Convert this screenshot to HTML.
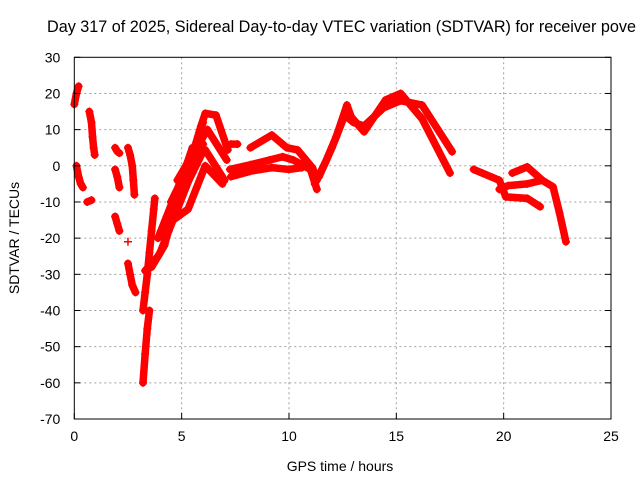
<!DOCTYPE html>
<html><head><meta charset="utf-8"><style>
body{margin:0;background:#fff}
svg{display:block;font-family:"Liberation Sans",sans-serif}
</style></head><body>
<svg id="chart" width="640" height="480">
<text x="47" y="32" font-size="16.2" fill="#000">Day 317 of 2025, Sidereal Day-to-day VTEC variation (SDTVAR) for receiver pove</text>
<text x="340" y="471" font-size="14" text-anchor="middle">GPS time / hours</text>
<text transform="translate(19,238) rotate(-90)" font-size="14" text-anchor="middle">SDTVAR / TECUs</text>
<g id="grid"></g><g id="marks"></g><g id="axes"></g>
</svg>
<script>
const xTicks=[0,5,10,15,20,25];
const yTicks=[30,20,10,0,-10,-20,-30,-40,-50,-60,-70];
const track1=[[0,17],[0.1,20],[0.2,22]];
const track2=[[0.1,0],[0.2,-3],[0.3,-5],[0.4,-6]];
const track3=[[0.6,-10],[0.8,-9.5]];
const track4=[[0.7,15],[0.8,12],[0.85,8],[0.9,5],[0.95,3]];
const track5=[[1.9,5],[2.0,4],[2.1,3.5]];
const track6=[[1.9,-1],[2.0,-3],[2.1,-6]];
const track7=[[1.9,-14],[2.0,-16],[2.1,-18]];
const track8=[[2.5,-21]];
const track9=[[2.5,-27],[2.6,-30],[2.7,-33],[2.85,-35]];
const track10=[[2.5,5],[2.6,3],[2.7,0],[2.75,-4],[2.8,-8]];
const track11=[[3.2,-60],[3.3,-52],[3.4,-45],[3.5,-40]];
const track12=[[3.2,-40],[3.3,-35],[3.4,-30],[3.5,-24],[3.6,-18],[3.7,-12],[3.75,-9]];
const track13=[[3.3,-29],[3.6,-27],[3.9,-25],[4.2,-22],[4.6,-13],[5,-5],[5.5,3],[5.9,11],[6.1,14.5],[6.6,14],[7.15,4.4]];
const track14=[[4.5,-14],[5,-8],[5.5,-2],[6,4],[6.1,4.4],[7.0,-4]];
const track15=[[4.5,-10],[5,-4],[5.5,2],[6,8],[6.2,10],[7.1,1.6]];
const track16=[[4.6,-15],[5.3,-12],[5.7,-6],[6.1,0],[6.9,-5]];
const track17=[[7.3,6],[7.6,6]];
const track18=[[8.2,5],[9.2,8.5],[9.9,5],[10.4,4.4],[11.1,-0.6],[11.3,-4]];
const track19=[[7.25,-1],[8.2,0.3],[9.1,1.6],[9.7,2.5],[10.2,1.6],[11,-1],[11.3,-6.5]];
const track20=[[11.2,-5],[11.7,1],[12.2,8],[12.7,16.8],[12.9,13.5],[13.5,9.4],[14.5,18.2],[15.2,20],[16.2,13],[17.5,-2]];
const track21=[[11.4,-3],[12.0,5],[12.6,14],[13.0,12],[13.5,11],[14.4,16],[15.2,18],[16.2,16.8],[17.6,3.9]];
const track22=[[18.6,-1],[19,-2],[19.8,-4],[20.1,-8.6],[21.1,-9],[21.7,-11.3]];
const track23=[[20.4,-2],[21.1,-0.3],[21.8,-4],[22.3,-5.8],[22.6,-13],[22.9,-21]];
const track24=[[19.8,-6.5],[20.2,-5.5],[21.1,-5],[21.8,-4]];
const track25=[[3.6,-28],[4.0,-24],[4.4,-18],[4.8,-12],[5.2,-6],[5.6,0],[6.0,6]];
const track26=[[4.8,-4],[5.2,0],[5.6,5],[6,12]];
const track27=[[7.3,-3],[8.2,-1.5],[9.2,-0.5],[10,-1],[10.6,-0.5]];
const track28=[[3.9,-20],[4.3,-14],[4.7,-8],[5.1,-2],[5.5,5]];
const tracks=[track1,track2,track3,track4,track5,track6,track7,track8,track9,track10,track11,track12,track13,track14,track15,track16,track17,track18,track19,track20,track21,track22,track23,track24,track25,track26,track27,track28];

const L=74.3,R=611,T=57.3,B=419;
const sx=x=>L+x/25*(R-L);
const sy=y=>T+(30-y)/100*(B-T);
const NS='http://www.w3.org/2000/svg';
function mk(tag,attrs,parent){const e=document.createElementNS(NS,tag);for(const k in attrs)e.setAttribute(k,attrs[k]);parent.appendChild(e);return e;}
const grid=document.getElementById('grid'),marks=document.getElementById('marks'),axes=document.getElementById('axes');
xTicks.forEach(t=>{
  if(t>0&&t<25){const g=mk('line',{x1:sx(t),x2:sx(t),y1:T,y2:B,stroke:'#a0a0a0','stroke-dasharray':'2,3'},grid);
  
  }
  const tk=mk('line',{x1:sx(t),x2:sx(t),y1:B,y2:B-6,stroke:'#000'},axes);
  
  
  const lb=mk('text',{x:sx(t),y:B+22,'font-size':14,'text-anchor':'middle'},axes);lb.textContent=t;
  
  
});
yTicks.forEach(t=>{
  if(t<30&&t>-70){const g=mk('line',{x1:L,x2:R,y1:sy(t),y2:sy(t),stroke:'#a0a0a0','stroke-dasharray':'2,3'},grid);
  
  }
  const tk=mk('line',{x1:L,x2:L+6,y1:sy(t),y2:sy(t),stroke:'#000'},axes);
  
  
  mk('line',{x1:R,x2:R-6,y1:sy(t),y2:sy(t),stroke:'#000'},axes);
  const lb=mk('text',{x:L-14,y:sy(t)+5,'font-size':14,'text-anchor':'end'},axes);lb.textContent=t;
  
  
});
const fr=mk('rect',{x:L,y:T,width:R-L,height:B-T,fill:'none',stroke:'#000'},axes);


tracks.forEach(tr=>{
  const pts=tr.map(p=>sx(p[0])+','+sy(p[1])).join(' ');
  if(tr.length>1){const pl=mk('polyline',{points:pts,fill:'none',stroke:'#f00','stroke-width':7.5,'stroke-linejoin':'round','stroke-linecap':'round'},marks);
  
  }
  tr.forEach(p=>{
    const x=sx(p[0]),y=sy(p[1]);
    const m=mk('path',{d:`M${x-4},${y}H${x+4}M${x},${y-4}V${y+4}`,stroke:'#f00','stroke-width':1.5},marks);
    
    
  });
});
</script>
</body></html>
